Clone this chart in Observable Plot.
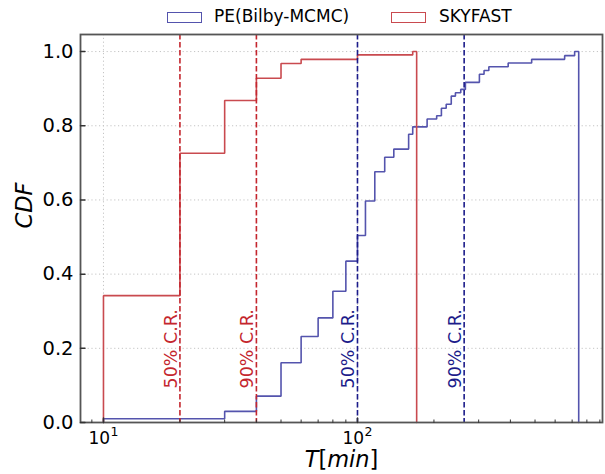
<!DOCTYPE html>
<html><head><meta charset="utf-8">
<script src="https://cdn.jsdelivr.net/npm/d3@7"></script>
<script src="https://cdn.jsdelivr.net/npm/@observablehq/plot@0.6"></script>
<style>
html,body{margin:0;padding:0;background:#fff;}
#legend{position:relative;width:605px;height:30px;font-family:"DejaVu Sans",sans-serif;font-size:17px;color:#000;}
.sw{position:absolute;top:11.5px;width:33px;height:9px;border:1.4px solid;}
.lt{position:absolute;top:6px;line-height:20px;white-space:nowrap;}
#chart svg{overflow:visible;font-family:"DejaVu Sans",sans-serif;}
</style></head><body>
<div id="legend"></div>
<div id="chart"></div>
<script>
// ---- data ----
const seriesNames = ["PE(Bilby-MCMC)", "SKYFAST"];
const seriesColors = ["#5454ad", "#c94a4f"];

// PE (Bilby-MCMC): bin edges (min) and cumulative fraction in each bin
const peEdges = [10, 30, 40, 50, 60, 70, 80, 90, 100, 107.5, 117, 128, 139, 159, 165,
                 188, 205, 214, 223.5, 234, 243, 255, 266, 302, 315, 329, 392, 485, 654, 716, 743];
const peCDF = [0.010, 0.030, 0.071, 0.161, 0.232, 0.282, 0.354, 0.435, 0.504,
               0.597, 0.676, 0.715, 0.737, 0.777, 0.797,
               0.818, 0.827, 0.847, 0.858, 0.880, 0.889, 0.898, 0.917,
               0.939, 0.949, 0.959, 0.969, 0.979, 0.989, 1.0];

// SKYFAST
const skyEdges = [10, 20, 30, 40, 50, 60, 100, 165, 171];
const skyCDF = [0.342, 0.726, 0.868, 0.928, 0.968, 0.979, 0.991, 1.0];

// credible-region markers
const crValues = [20, 40, 100, 263];
const crLabels = ["50% C.R.", "90% C.R.", "50% C.R.", "90% C.R."];
const crColors = ["#c4262e", "#c4262e", "#1c1c8a", "#1c1c8a"];

const yTicks = [0, 0.2, 0.4, 0.6, 0.8, 1.0];
const xMajor = [10, 100];
const xMinor = [9, 20, 30, 40, 50, 60, 70, 80, 90, 200, 300, 400, 500, 600, 700, 800, 900];
const xLabel = "T[min]";
const yLabel = "CDF";

// ---- legend ----
const legend = document.getElementById("legend");
const legendPos = [[167, 214], [391, 439]];
seriesNames.forEach((n, i) => {
  const sw = document.createElement("div");
  sw.className = "sw"; sw.style.left = legendPos[i][0] + "px"; sw.style.borderColor = seriesColors[i];
  const t = document.createElement("div");
  t.className = "lt"; t.style.left = legendPos[i][1] + "px"; t.textContent = n;
  legend.appendChild(sw); legend.appendChild(t);
});

// ---- build step outlines ----
function stepPoints(edges, cdf, series) {
  const pts = [{x: edges[0], y: 0, series}];
  cdf.forEach((c, i) => pts.push({x: edges[i], y: c, series}));
  pts.push({x: edges[edges.length - 1], y: cdf[cdf.length - 1], series});
  pts.push({x: edges[edges.length - 1], y: 0, series});
  return pts;
}
const pePts = stepPoints(peEdges, peCDF, seriesNames[0]);
const skyPts = stepPoints(skyEdges, skyCDF, seriesNames[1]);
const cr = crValues.map((v, i) => ({x: v, label: crLabels[i], color: crColors[i]}));

const tickShape = {draw(ctx, l) { ctx.moveTo(0, 0); ctx.lineTo(0, -l); }};

const chart = Plot.plot({
  width: 605,
  height: 444,
  marginLeft: 80,
  marginRight: 3,
  marginTop: 4,
  marginBottom: 52,
  style: {fontFamily: "DejaVu Sans, sans-serif", color: "#000", background: "#fff"},
  x: {type: "log", domain: [8.12, 921.8]},
  y: {domain: [0, 1.046]},
  marks: [
    Plot.gridY(yTicks, {stroke: "#c4c4c4", strokeOpacity: 1, strokeDasharray: "1.2,2.6", strokeWidth: 1}),
    Plot.gridX(xMajor, {stroke: "#c4c4c4", strokeOpacity: 1, strokeDasharray: "1.2,2.6", strokeWidth: 1}),
    Plot.line(pePts, {x: "x", y: "y", curve: "step-after", stroke: seriesColors[0], strokeWidth: 1.6, strokeLinejoin: "miter"}),
    Plot.line(skyPts, {x: "x", y: "y", curve: "step-after", stroke: seriesColors[1], strokeWidth: 1.6, strokeLinejoin: "miter"}),
    Plot.ruleX(cr, {x: "x", stroke: "color", strokeWidth: 1.6, strokeDasharray: "5.5,2.5"}),
    Plot.text(cr, {x: "x", text: "label", fill: "color", frameAnchor: "bottom", dy: -34, dx: -9,
                   rotate: -90, textAnchor: "start", lineAnchor: "middle", fontSize: 17.5}),
    Plot.frame({stroke: "#555", strokeWidth: 1.8}),
    Plot.vector(xMajor, {x: d => d, frameAnchor: "bottom", length: 4.5, shape: tickShape, anchor: "start", stroke: "#333", strokeWidth: 1.5}),
    Plot.vector(xMinor, {x: d => d, frameAnchor: "bottom", length: 2.6, shape: tickShape, anchor: "start", stroke: "#333", strokeWidth: 1}),
    Plot.vector(yTicks, {y: d => d, frameAnchor: "left", length: 4.5, rotate: 90, shape: tickShape, anchor: "start", stroke: "#333", strokeWidth: 1.5}),
    Plot.axisY({ticks: yTicks, tickSize: 0, tickPadding: 7, tickFormat: d3.format(".1f"), fontSize: 19.5, label: null}),
    Plot.axisX({ticks: xMajor, tickSize: 0, tickPadding: 9, fontSize: 17, label: null,
                tickFormat: d => "10^" + Math.round(Math.log10(d))}),
    Plot.text([yLabel], {text: d => d, frameAnchor: "left", dx: -56, rotate: -90, fontStyle: "italic", fontSize: 22.5, lineAnchor: "middle"}),
    Plot.text([xLabel], {text: d => d, frameAnchor: "bottom", dy: 37, fontSize: 22.5, lineAnchor: "middle"})
  ]
});
document.getElementById("chart").appendChild(chart);

const NS = "http://www.w3.org/2000/svg";
chart.querySelectorAll("text").forEach(t => {
  // mathtext-like styling of the x label: italic letters, upright brackets
  if (t.textContent === xLabel) {
    const parts = xLabel.split(/([\[\]])/).filter(s => s.length);
    t.textContent = "";
    parts.forEach(p => {
      const ts = document.createElementNS(NS, "tspan");
      ts.setAttribute("font-style", /[\[\]]/.test(p) ? "normal" : "italic");
      ts.textContent = p;
      t.appendChild(ts);
    });
  }
  // power-of-ten tick labels with real superscripts
  const m = /^10\^(\d+)$/.exec(t.textContent);
  if (m) {
    t.textContent = "10";
    const ts = document.createElementNS(NS, "tspan");
    ts.setAttribute("font-size", "12.5");
    ts.setAttribute("dy", "-7.5");
    ts.setAttribute("dx", "0.5");
    ts.textContent = m[1];
    t.appendChild(ts);
  }
});
</script>
</body></html>
